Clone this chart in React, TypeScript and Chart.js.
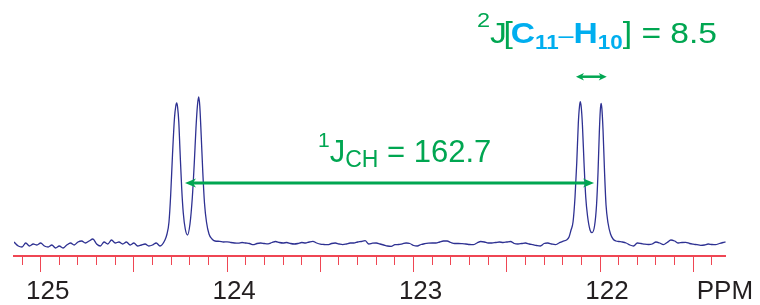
import React, { useEffect, useRef } from 'react';
import { Chart, registerables } from 'chart.js';

Chart.register(...registerables);

// ---- axis / range ----
const PPM_MIN = 121.326;
const PPM_MAX = 125.143;
const Y_MIN = -60;
const Y_MAX = 245;
const AXIS_LEVEL = -10.5;
const MAJOR_STEP = 0.5;
const MINOR_STEP = 0.1;
const AXIS_UNIT = 'PPM';
const AXIS_UNIT_PPM = 121.179;

// ---- spectrum (ppm, intensity) ----
const SPECTRUM_PPM = [
  125.143, 125.12, 125.10, 125.08, 125.06, 125.04, 125.02, 125.00, 124.98, 124.96,
  124.94, 124.92, 124.90, 124.88, 124.86, 124.84, 124.82, 124.80, 124.78, 124.76,
  124.74, 124.72, 124.70, 124.68, 124.66, 124.64, 124.62, 124.60, 124.58, 124.56,
  124.54, 124.52, 124.50, 124.48, 124.46, 124.44, 124.42, 124.40, 124.38, 124.36,
  124.3333, 124.3225, 124.3118, 124.3027, 124.2930, 124.2823, 124.2753, 124.2705, 124.2657, 124.2592,
  124.2528, 124.2437, 124.2351, 124.2244, 124.2126, 124.1992, 124.1868, 124.1761, 124.1670, 124.1589,
  124.1525, 124.1466, 124.1391, 124.1305, 124.1214, 124.1107, 124.0972, 124.0812, 124.0651,
  124.04, 124.02, 124.00, 123.98, 123.96, 123.94, 123.92, 123.90, 123.88, 123.86,
  123.84, 123.82, 123.80, 123.78, 123.76, 123.74, 123.72, 123.70, 123.68, 123.66,
  123.64, 123.62, 123.60, 123.58, 123.56, 123.54, 123.52, 123.50, 123.48, 123.46,
  123.44, 123.42, 123.40, 123.38, 123.36, 123.34, 123.32, 123.30, 123.28, 123.26,
  123.24, 123.22, 123.20, 123.18, 123.16, 123.14, 123.12, 123.10, 123.08, 123.06,
  123.04, 123.02, 123.00, 122.98, 122.96, 122.94, 122.92, 122.90, 122.88, 122.86,
  122.84, 122.82, 122.80, 122.78, 122.76, 122.74, 122.72, 122.70, 122.68, 122.66,
  122.64, 122.62, 122.60, 122.58, 122.56, 122.54, 122.52, 122.50, 122.48, 122.46,
  122.44, 122.42, 122.40, 122.38, 122.36, 122.34, 122.32, 122.30, 122.28, 122.26,
  122.24, 122.22, 122.20, 122.18,
  122.1662, 122.1555, 122.1448, 122.1341, 122.1249, 122.1164, 122.1099, 122.1056, 122.1003, 122.0944,
  122.0858, 122.0767, 122.0670, 122.0536, 122.0429, 122.0295, 122.0187, 122.0107, 122.0037, 121.9984,
  121.9946, 121.9903, 121.9839, 121.9758, 121.9678, 121.9571, 121.9437, 121.9302, 121.9141,
  121.90, 121.88, 121.86, 121.84, 121.82, 121.80, 121.78, 121.76, 121.74, 121.72,
  121.70, 121.68, 121.66, 121.64, 121.62, 121.60, 121.58, 121.56, 121.54, 121.52,
  121.50, 121.48, 121.46, 121.44, 121.42, 121.40, 121.38, 121.36, 121.34, 121.326,
];

const SPECTRUM_INTENSITY = [
  3, -1, -2, 2, -1, 1, 0, 2, -1, -2,
  0, -3, -1, -3, 0, 2, 0, 3, 4, 2,
  4, 6, 1, -1, 3, 1, 5, 2, 3, 1,
  3, 0, 2, -1, 0, 1, -1, 0, 2, -1,
  5, 11, 23, 50, 90, 127, 139, 142, 138, 123,
  95, 57, 32, 16, 10, 21, 47, 82, 117, 140,
  148, 139, 110, 73, 42, 23, 11, 6, 4,
  3.7, 3, 3.2, 2.5, 2, 1.8, 2.5, 2, 1.5, 0.3,
  1.5, 2, 1.5, 1.2, 2.5, 3.5, 2.5, 2, 2.5, 1.5,
  1, 1.5, 2.5, 2, 3, 3.7, 2, 0.8, 0.5, 0.3,
  1.5, 2, 1, 0.3, 1, 2, 2, 3, 3.5, 4.3,
  1, 1.8, 2, 1, 0, -1, -1.3, 0.3, 0.5, 1.2,
  2, 1.5, -0.5, -1, 0.5, 1.3, 1.8, 2, 2, 3,
  4, 4, 2.5, 1.5, 1.5, 1.3, 1, 0.5, 0.3, 2,
  3.5, 3, 2, 2, 2.5, 3, 2.5, 3, 3.5, 1.5,
  1, 1.5, 2, 1, 0.3, -0.5, -1, 1.5, 2, 1,
  0.3, 2, 3.7, 5,
  8, 15, 23, 48, 82, 122, 139, 143.3, 137, 120,
  82, 48, 29, 15, 12.3, 19, 40, 73, 113, 135,
  141.7, 137, 115, 73, 40, 22, 11, 6, 4,
  3.5, 3, 2, 0, -1, 2, 1.5, 0.8, 0.5, 1,
  3, 2, 0.3, 2.5, 5, 4, 2, 2.5, 2.7, 1.5,
  0.8, 0.3, -0.3, 0, 1, 0.5, 0.3, 1.5, 2.5, 3,
];

// ---- annotations (data coordinates) ----
const ARROW_1J = { from: 124.226, to: 122.032, level: 62 };
const ARROW_2J = { from: 122.129, to: 121.964, level: 168.3 };
const LABEL_1J = { ppm: 123.5126, level: 82.7 };
const LABEL_2J = { ppm: 122.6597, level: 201.7 };

const GREEN = '#00a651';
const BLUE = '#00aeef';
const NAVY = '#2e3192';
const RED = '#ef4653';
const TEXT = '#231f20';
const FONT = '"Liberation Sans", Arial, Helvetica, sans-serif';

type Seg = { t: string; size: number; bold?: boolean; color: string; dy?: number; dx?: number };

const LABEL_1J_SEGS: Seg[] = [
  { t: '1', size: 21, color: GREEN, dy: -15 },
  { t: 'J', size: 31, color: GREEN },
  { t: 'CH', size: 23, color: GREEN, dy: 4.4 },
  { t: ' = 162.7', size: 31, color: GREEN },
];

const LABEL_2J_SEGS: Seg[] = [
  { t: '2', size: 21, color: GREEN, dy: -16 },
  { t: 'J', size: 30, color: GREEN },
  { t: '[', size: 30, color: GREEN, dx: -3 },
  { t: 'C', size: 30, bold: true, color: BLUE, dx: -2 },
  { t: '11', size: 20, bold: true, color: BLUE, dy: 6 },
  { t: '\u2013', size: 24, color: BLUE },
  { t: 'H', size: 30, bold: true, color: BLUE },
  { t: '10', size: 20, bold: true, color: BLUE, dy: 6 },
  { t: '] = 8.5', size: 30, color: GREEN },
];

function drawSegs(ctx: CanvasRenderingContext2D, x: number, y: number, segs: Seg[], sx = 1) {
  ctx.save();
  ctx.translate(x, y);
  ctx.scale(sx, 1);
  ctx.textBaseline = 'alphabetic';
  ctx.textAlign = 'left';
  let cx = 0;
  for (const s of segs) {
    cx += s.dx || 0;
    ctx.font = `${s.bold ? 'bold ' : ''}${s.size}px ${FONT}`;
    ctx.fillStyle = s.color;
    ctx.fillText(s.t, cx, s.dy || 0);
    cx += ctx.measureText(s.t).width;
  }
  ctx.restore();
}

function drawDoubleArrow(
  ctx: CanvasRenderingContext2D, x1: number, x2: number, y: number,
  lw: number, hl: number, hw: number, color: string,
) {
  ctx.save();
  ctx.strokeStyle = color;
  ctx.fillStyle = color;
  ctx.lineWidth = lw;
  ctx.beginPath();
  ctx.moveTo(x1 + hl * 0.6, y);
  ctx.lineTo(x2 - hl * 0.6, y);
  ctx.stroke();
  const head = (tx: number, dir: number) => {
    ctx.beginPath();
    ctx.moveTo(tx, y);
    ctx.lineTo(tx + dir * hl, y - hw);
    ctx.lineTo(tx + dir * hl * 0.72, y);
    ctx.lineTo(tx + dir * hl, y + hw);
    ctx.closePath();
    ctx.fill();
  };
  head(x1, 1);
  head(x2, -1);
  ctx.restore();
}

const annotationPlugin = {
  id: 'nmrAnnotations',
  afterDraw(chart: any) {
    const ctx = chart.ctx as CanvasRenderingContext2D;
    const xs = chart.scales.x;
    const ys = chart.scales.y;
    const px = (v: number) => xs.getPixelForValue(v);
    const py = (v: number) => ys.getPixelForValue(v);
    drawDoubleArrow(ctx, px(ARROW_1J.from), px(ARROW_1J.to), py(ARROW_1J.level), 3, 11, 4.5, GREEN);
    drawDoubleArrow(ctx, px(ARROW_2J.from), px(ARROW_2J.to), py(ARROW_2J.level), 2.5, 8, 3.8, GREEN);
    drawSegs(ctx, px(LABEL_1J.ppm), py(LABEL_1J.level), LABEL_1J_SEGS);
    drawSegs(ctx, px(LABEL_2J.ppm), py(LABEL_2J.level), LABEL_2J_SEGS, 1.12);
    // axis unit
    ctx.save();
    ctx.font = `26px ${FONT}`;
    ctx.fillStyle = TEXT;
    ctx.textAlign = 'right';
    ctx.textBaseline = 'alphabetic';
    ctx.fillText(AXIS_UNIT, px(AXIS_UNIT_PPM), 298.5);
    ctx.restore();
  },
};

export default function App() {
  const ref = useRef<HTMLCanvasElement | null>(null);
  useEffect(() => {
    if (!ref.current) return;
    const data = SPECTRUM_PPM.map((p, i) => ({ x: p, y: SPECTRUM_INTENSITY[i] }));
    const chart = new Chart(ref.current, {
      type: 'line',
      data: {
        datasets: [
          {
            data,
            borderColor: NAVY,
            borderWidth: 1.3,
            pointRadius: 0,
            fill: false,
            cubicInterpolationMode: 'monotone',
            xAxisID: 'x',
            yAxisID: 'y',
          },
        ],
      },
      options: {
        animation: false,
        responsive: false,
        maintainAspectRatio: false,
        layout: { padding: { left: 14, right: 34.3, top: 0, bottom: 0 } },
        plugins: { legend: { display: false }, tooltip: { enabled: false } },
        scales: {
          x: {
            type: 'linear',
            min: PPM_MIN,
            max: PPM_MAX,
            reverse: true,
            position: { y: AXIS_LEVEL } as any,
            border: { display: true, color: RED, width: 2 },
            grid: { drawOnChartArea: false, drawTicks: true, tickLength: 15, color: RED, tickColor: RED, lineWidth: 1 },
            ticks: {
              stepSize: MAJOR_STEP,
              includeBounds: false,
              autoSkip: false,
              maxRotation: 0,
              padding: 6,
              labelOffset: 7,
              color: TEXT,
              font: { family: FONT, size: 26 },
              callback: (v: any) => (Math.abs(v - Math.round(v)) < 1e-6 ? String(Math.round(v)) : ''),
            },
          },
          xMinor: {
            type: 'linear',
            axis: 'x',
            min: PPM_MIN,
            max: PPM_MAX,
            reverse: true,
            position: { y: AXIS_LEVEL } as any,
            border: { display: false },
            grid: { drawOnChartArea: false, drawTicks: true, tickLength: 9, color: RED, tickColor: RED, lineWidth: 1 },
            ticks: { stepSize: MINOR_STEP, includeBounds: false, autoSkip: false, maxRotation: 0, callback: () => '' },
          },
          y: { type: 'linear', min: Y_MIN, max: Y_MAX, display: false },
        },
      } as any,
      plugins: [annotationPlugin],
    });
    return () => chart.destroy();
  }, []);
  return (
    <div style={{ position: 'fixed', left: 0, top: 0, width: 760, height: 305, background: '#fff' }}>
      <canvas ref={ref} width={760} height={305} style={{ display: 'block', width: 760, height: 305 }} />
    </div>
  );
}
